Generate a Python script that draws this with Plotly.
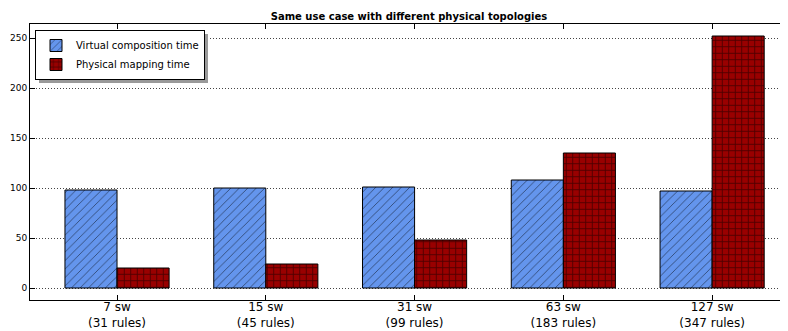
import plotly.graph_objects as go

categories = ["7 sw<br>(31 rules)", "15 sw<br>(45 rules)", "31 sw<br>(99 rules)",
              "63 sw<br>(183 rules)", "127 sw<br>(347 rules)"]
virtual_time = [98, 100, 101, 108, 97]
physical_time = [20, 24, 48, 135, 252]
y_ticks = [0, 50, 100, 150, 200, 250]

x = list(range(len(categories)))
W = 0.35

# page body has an 8px margin, so the figure is shrunk by 8px each way
FW, FH = 780, 323
L, T, B = 22, 16, 31
PW, PH = FW - L, FH - T - B  # 758 x 276


def px(xr):  # reference x pixel -> paper coord
    return (xr - 8 - L) / PW


def py(yr):  # reference y pixel -> paper coord
    return (FH - B - (yr - 8)) / PH


fig = go.Figure()
fig.add_trace(go.Bar(
    x=x, y=virtual_time, width=W, offset=-W, name="Virtual composition time",
    marker=dict(color="#6495ED", line=dict(color="black", width=1),
                pattern=dict(shape="/", fgcolor="black", bgcolor="#6495ED", size=6, solidity=0.15)),
))
fig.add_trace(go.Bar(
    x=x, y=physical_time, width=W, offset=0, name="Physical mapping time",
    marker=dict(color="#8B0000", line=dict(color="black", width=1),
                pattern=dict(shape="+", fgcolor="black", bgcolor="#990000", size=6.5, solidity=0.25)),
))

# legend shadow
fig.add_shape(type="rect", xref="paper", yref="paper",
              x0=px(39), x1=px(208), y0=py(83), y1=py(34),
              fillcolor="#999999", line=dict(width=0), layer="above")

fig.update_layout(
    width=FW, height=FH,
    margin=dict(l=L, r=0, t=T, b=B, autoexpand=False),
    plot_bgcolor="white", paper_bgcolor="white",
    font=dict(family="DejaVu Sans", color="black"),
    title=dict(text="<b>Same use case with different physical topologies</b>",
               x=0.5, xanchor="center", xref="paper", y=1 - 8 / FH, yanchor="middle",
               font=dict(size=10)),
    barmode="overlay",
    showlegend=True,
    legend=dict(x=px(35), y=py(30), xanchor="left", yanchor="top",
                bgcolor="white", bordercolor="black", borderwidth=1,
                font=dict(size=10), tracegroupgap=0, itemwidth=30),
    xaxis=dict(range=[-0.585, 4.51], tickmode="array", tickvals=x, ticktext=categories,
               showline=True, linecolor="black", linewidth=1, mirror="ticks",
               ticks="inside", ticklen=5, tickcolor="black", automargin=False,
               ticklabelstandoff=-4,
               showgrid=False, zeroline=False, tickfont=dict(size=12)),
    yaxis=dict(range=[-12, 264], tickmode="array", tickvals=y_ticks,
               showline=True, linecolor="black", linewidth=1, mirror=False,
               ticks="inside", ticklen=5, tickcolor="black", automargin=False,
               showgrid=True, gridcolor="#444444", griddash="1px,2px", gridwidth=1,
               zeroline=False, tickfont=dict(size=9)),
)

fig.write_html("out.html")
